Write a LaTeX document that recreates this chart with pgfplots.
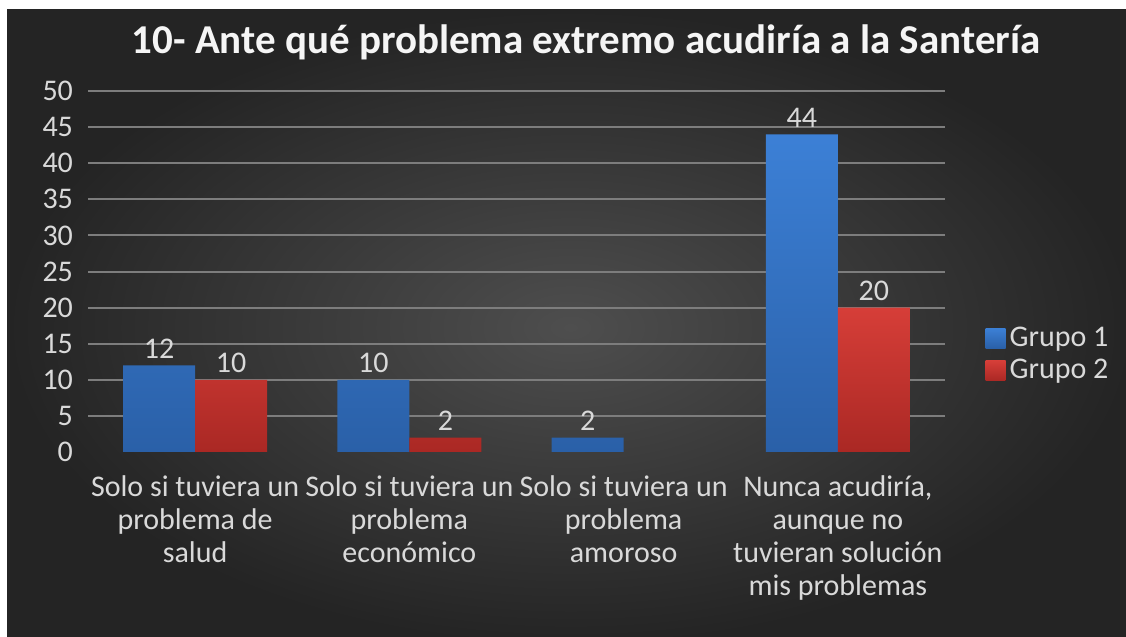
\documentclass[border=0pt]{standalone}
\usepackage{pgfplots}
\pgfplotsset{compat=1.18}
\usepackage{fontspec}
\setmainfont{Carlito}
\definecolor{bgin}{RGB}{78,78,78}
\definecolor{bgout}{RGB}{36,36,36}
\definecolor{gridc}{RGB}{125,125,125}
\definecolor{labc}{RGB}{217,217,217}
\definecolor{titc}{RGB}{245,245,245}
\definecolor{blueT}{RGB}{60,128,214}
\definecolor{blueB}{RGB}{42,96,168}
\definecolor{redT}{RGB}{214,62,56}
\definecolor{redB}{RGB}{170,40,36}
\begin{document}
\begin{tikzpicture}
\useasboundingbox (0,0) rectangle (563pt,318.5pt);
\fill[white] (0,0) rectangle (563pt,318.5pt);
\shade[inner color=bgin, outer color=bgout] (3.5pt,-4pt) rectangle (567pt,313.5pt);
\node[text=titc, font=\fontsize{20.5}{24}\selectfont\bfseries] at (293pt,297.5pt)
  {10- Ante qué problema extremo acudiría a la Santería};
\begin{axis}[
  at={(44pt,92.5pt)}, anchor=south west,
  scale only axis, width=428.5pt, height=180.5pt,
  ybar=0pt, bar width=36pt,
  xmin=-0.5, xmax=3.5, ymin=0, ymax=50,
  axis line style={draw=none},
  tick style={draw=none},
  xtick={0,1,2,3},
  xticklabels={{Solo si tuviera un\\problema de\\salud},
               {Solo si tuviera un\\problema\\económico},
               {Solo si tuviera un\\problema\\amoroso},
               {Nunca acudiría,\\aunque no\\tuvieran solución\\mis problemas}},
  xticklabel style={align=center, text=labc, font=\fontsize{15}{16.5}\selectfont, yshift=-4pt},
  ytick={5,10,...,50},
  extra y ticks={0},
  extra y tick style={grid=none},
  ymajorgrids,
  grid style={gridc, line width=1pt},
  yticklabel style={text=labc, font=\fontsize{15}{18}\selectfont, xshift=-4pt},
  /pgf/number format/assume math mode=true,
  nodes near coords,
  every node near coord/.append style={text=labc, font=\fontsize{15}{18}\selectfont},
  legend style={at={(1.04,0.27)}, anchor=west, draw=none, fill=none,
    text=labc, font=\fontsize{15}{18}\selectfont, row sep=1pt},
  legend cell align=left,
  legend image code/.code={\fill[#1] (0pt,-5pt) rectangle (10pt,5pt);},
]
\addplot[draw=none, top color=blueT, bottom color=blueB]
  coordinates {(0,12) (1,10) (2,2) (3,44)};
\addplot[draw=none, top color=redT, bottom color=redB]
  coordinates {(0,10) (1,2) (3,20)};
\legend{Grupo 1, Grupo 2}
\end{axis}
\end{tikzpicture}
\end{document}
